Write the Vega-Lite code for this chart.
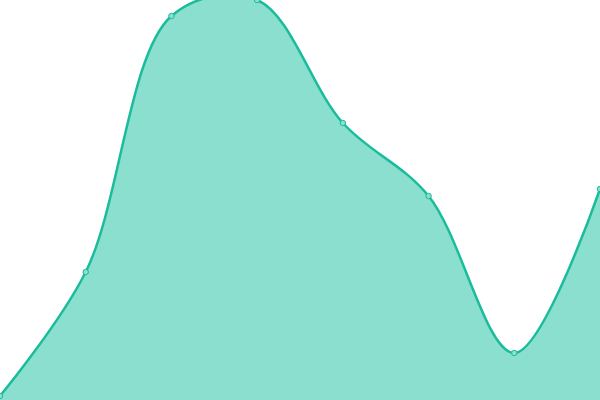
{
  "$schema": "https://vega.github.io/schema/vega-lite/v6.json",
  "width": 600,
  "height": 400,
  "autosize": {"type": "none"},
  "padding": 0,
  "config": {"view": {"stroke": null}},
  "data": {
    "values": [
      {"i": 0, "v": 4},
      {"i": 1, "v": 128},
      {"i": 2, "v": 384},
      {"i": 3, "v": 400},
      {"i": 4, "v": 277},
      {"i": 5, "v": 204},
      {"i": 6, "v": 47},
      {"i": 7, "v": 211}
    ]
  },
  "encoding": {
    "x": {"field": "i", "type": "quantitative", "axis": null, "scale": {"domain": [0, 7], "nice": false}},
    "y": {"field": "v", "type": "quantitative", "axis": null, "scale": {"domain": [0, 400], "nice": false}}
  },
  "layer": [
    {
      "mark": {
        "type": "area",
        "interpolate": "catmull-rom",
        "fill": "#8adfce",
        "opacity": 1,
        "line": {"stroke": "#1abc9c", "strokeWidth": 2.5, "interpolate": "catmull-rom"}
      }
    },
    {
      "mark": {"type": "point", "filled": true, "size": 30, "fill": "#8adfce", "stroke": "#1abc9c", "strokeWidth": 1, "opacity": 1}
    }
  ]
}
